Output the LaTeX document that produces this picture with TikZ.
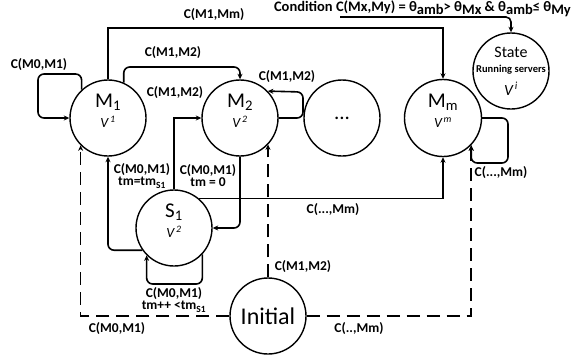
\documentclass[tikz,border=0pt]{standalone}
\usepackage{fontspec}
\setmainfont{Carlito}
\usetikzlibrary{arrows.meta,calc,positioning}
\newcommand{\stname}[2]{#1\textsubscript{#2}}
\newcommand{\stvar}[1]{{\fontsize{14}{14}\selectfont\itshape V\textsuperscript{\,#1}}}
\tikzset{
  stnode/.style   = {draw, circle, line width=1.4pt, minimum size=76pt, inner sep=0pt,
                     align=center, font=\fontsize{21}{20}\selectfont},
  mnode/.style    = {stnode, text height=19pt},
  edge/.style     = {line width=1.6pt, -{Stealth[length=5.5pt,width=5pt]}},
  dashedge/.style = {edge, dash pattern=on 13pt off 7pt},
  lbl/.style      = {font=\bfseries\fontsize{13.5}{12}\selectfont, align=center, inner sep=0pt},
}

\begin{document}
\begin{tikzpicture}[x=1pt,y=-1pt]
  \useasboundingbox (0,0) rectangle (572,362);
  % states
  \node[mnode] (M1) at (108,118) {\stname{M}{1}\\\stvar{1}};
  \node[mnode] (M2) at (240,118) {\stname{M}{2}\\\stvar{2}};
  \node[stnode] (Mdots) at (342,118) {...};
  \node[mnode,minimum size=77pt] (Mm) at (443,118) {\stname{M}{m}\\\stvar{m}};
  \node[mnode] (S1) at (174,228) {\stname{S}{1}\\\stvar{2}};
  \node[stnode,font=\fontsize{24}{22}\selectfont] (init) at (268,316) {Initial};
  \node[stnode,font=\fontsize{16}{15}\selectfont] (state) at (511,71)
    {\makebox[0pt]{State}\\
     \makebox[0pt]{\bfseries\fontsize{10.5}{10}\selectfont Running servers}\\[8pt]
     \makebox[0pt]{\fontsize{15.5}{15}\selectfont\itshape V\textsuperscript{\,i}}};
  \node[lbl,anchor=east,font=\bfseries\fontsize{14.5}{12}\selectfont] (cond) at (571,9)
    {Condition C(Mx,My) = θ\raisebox{-3pt}{amb}> θ\raisebox{-3pt}{Mx} \& θ\raisebox{-3pt}{amb}≤ θ\raisebox{-3pt}{My}};
  \coordinate (condsrc) at (340,17);

  % transitions
  \draw[edge,rounded corners=6pt] (M1.133) |- (38,74) |- (M1.west);
  \draw[edge] (M1.north) |- (300,28) -| (Mm.north);
  \draw[edge,rounded corners=6pt] (M1.66) |- (180,67) -| (M2.north);
  \draw[edge,rounded corners=6pt] (M2.east) -| (303,92) -- (M2.44);
  \draw[edge] (S1.north) |- (M2.west);
  \draw[edge,rounded corners=6pt] (S1.215) -| (M1.south);
  \draw[edge,rounded corners=6pt] (M2.south) |- (S1.east);
  \draw[edge,rounded corners=6pt] (S1.317) |- (175,284) -| (S1.225);
  \draw[edge] (S1.50) -| (Mm.south);
  \draw[edge,rounded corners=6pt] (Mm.east) -| (508,163) -| (Mm.316);
  \draw[dashedge] (init.east) -| (Mm.316);
  \draw[dashedge] (init.west) -| (M1.225);
  \draw[dashedge] (init.north) -- (init.north |- M2.317);
  \draw[edge,rounded corners=5pt] (condsrc) -| (state.north);

  % labels
  \node[lbl] (lM0M1a) at (39,65) {C(M0,M1)};
  \node[lbl] (lM1Mm) at (214,15) {C(M1,Mm)};
  \node[lbl] (lM1M2a) at (173,53) {C(M1,M2)};
  \node[lbl] (lM1M2b) at (175,93) {C(M1,M2)};
  \node[lbl] (lM1M2c) at (287,77) {C(M1,M2)};
  \node[lbl] (lS1M1) at (142,176) {C(M0,M1)\\tm=tm\textsubscript{S1}};
  \node[lbl] (lM2S1) at (208,176) {C(M0,M1)\\tm = 0};
  \node[lbl] (lS1Mm) at (333,210) {C(...,Mm)};
  \node[lbl] (lMmMm) at (501,173) {C(...,Mm)};
  \node[lbl] (lS1S1) at (174,300) {C(M0,M1)\\tm++ <tm\textsubscript{S1}};
  \node[lbl] (linM1) at (117,329) {C(M0,M1)};
  \node[lbl] (linMm) at (359,329) {C(..,Mm)};
  \node[lbl] (linM2) at (303,267) {C(M1,M2)};
\end{tikzpicture}
\end{document}
